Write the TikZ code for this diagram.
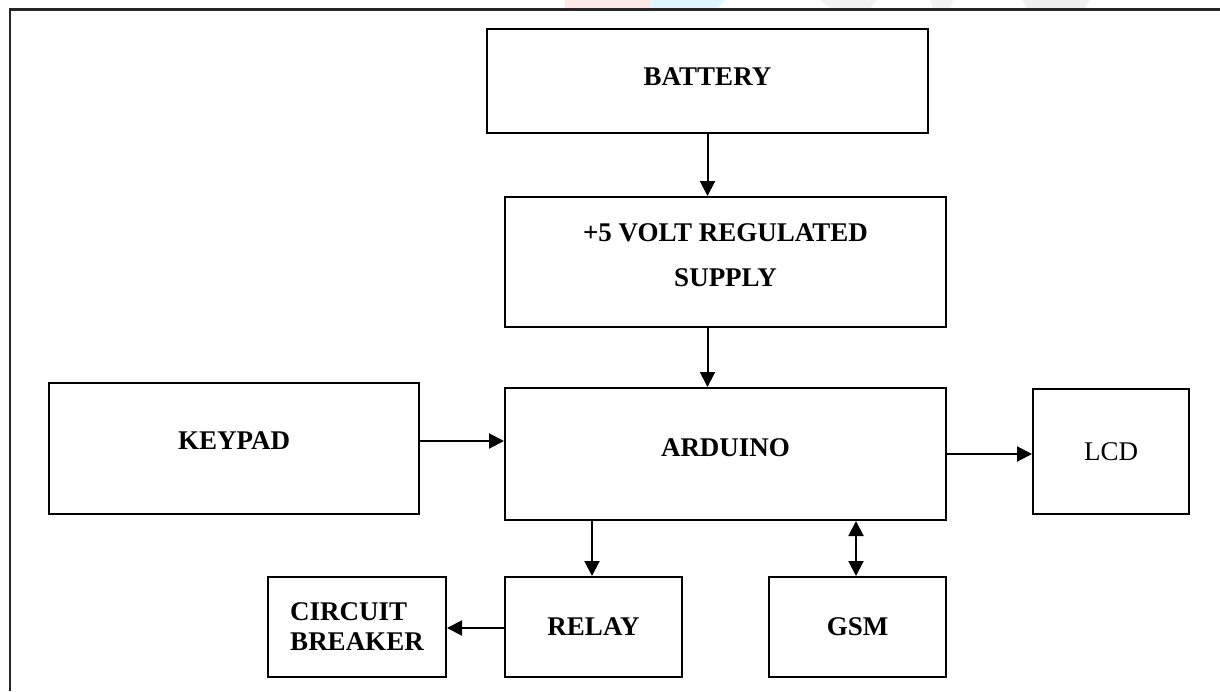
\documentclass[tikz,border=0pt]{standalone}
\usepackage{fontspec}
\setmainfont{Liberation Serif}
\usetikzlibrary{arrows.meta}
\begin{document}
\begin{tikzpicture}[x=1pt,y=-1pt,
  blk/.style={draw=black,line width=2pt,rectangle,inner sep=0pt,
    font=\fontsize{27}{30}\selectfont\bfseries},
  conn/.style={line width=2pt,-{Triangle[length=15pt,width=15pt]}},
  biconn/.style={line width=2pt,{Triangle[length=15pt,width=15pt]}-{Triangle[length=15pt,width=15pt]}},
  frame/.style={line width=2.2pt,draw=black!85}]
\useasboundingbox (0,0) rectangle (1220,691);
\fill[white] (0,0) rectangle (1220,691);
% faint watermark remnants above the frame
\fill[red!9] (565,0) rectangle (650,8);
\fill[cyan!12] (650,0) -- (725,0) -- (718,8) -- (650,8) -- cycle;
\fill[gray!12] (1022,0) -- (1090,0) -- (1085,8) -- (1027,8) -- cycle;
\fill[gray!10] (820,0) -- (877,0) -- (870,8) -- (830,8) -- cycle;
\fill[gray!10] (930,0) -- (953,0) -- (950,8) -- (933,8) -- cycle;
% outer frame
\draw[frame] (10,691) -- (10,9.5) -- (1220,9.5);
% blocks
\node[blk,minimum width=441pt,minimum height=104pt,text depth=8pt] (bat) at (707.5,81) {BATTERY};
\node[blk,minimum width=441pt,minimum height=130pt,align=center,text depth=13pt,
  font=\fontsize{27}{45}\selectfont\bfseries] (sup) at (725.5,262) {+5 VOLT REGULATED\\SUPPLY};
\node[blk,minimum width=441pt,minimum height=132pt,text depth=12pt] (ard) at (725.5,454) {ARDUINO};
\node[blk,minimum width=370pt,minimum height=131pt,text depth=16pt] (key) at (234,448.5) {KEYPAD};
\node[blk,minimum width=156pt,minimum height=125pt,font=\fontsize{27}{30}\selectfont] (lcd) at (1111,451.5) {LCD};
\node[blk,minimum width=177pt,minimum height=100pt] (rel) at (593.5,627) {RELAY};
\node[blk,minimum width=177pt,minimum height=100pt] (gsm) at (857.5,627) {GSM};
\node[blk,minimum width=178pt,minimum height=100pt,align=left] (cb) at (357,627) {CIRCUIT\\BREAKER};
% connectors
\draw[conn] (bat.south) -- (bat.south |- sup.north);
\draw[conn] (bat.south |- sup.south) -- (bat.south |- ard.north);
\draw[conn] ([yshift=7.5pt]key.east) -- ([yshift=7.5pt]key.east -| ard.west);
\draw[conn] (ard.east) -- (ard.east -| lcd.west);
\draw[conn] ([xshift=-1.5pt]rel.north |- ard.south) -- ([xshift=-1.5pt]rel.north);
\draw[biconn] ([xshift=-1.5pt]gsm.north |- ard.south) -- ([xshift=-1.5pt]gsm.north);
\draw[conn] ([yshift=-1pt]rel.west) -- ([yshift=-1pt]rel.west -| cb.east);
\end{tikzpicture}
\end{document}
